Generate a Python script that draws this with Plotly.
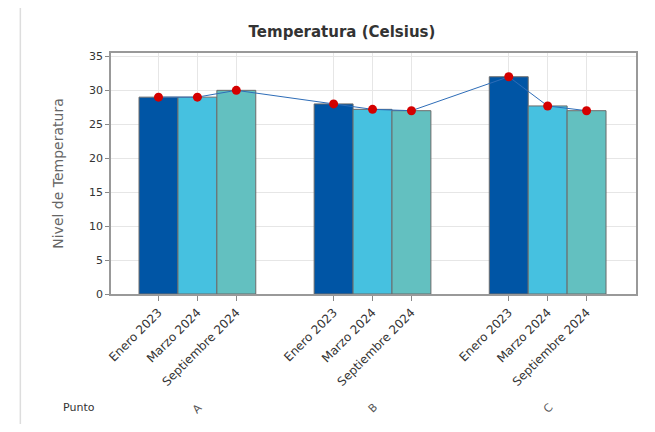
import plotly.graph_objects as go

# ---- data ----
puntos = ["A", "B", "C"]
meses = ["Enero 2023", "Marzo 2024", "Septiembre 2024"]
enero_2023 = [29, 28, 32]
marzo_2024 = [29, 27.2, 27.7]
septiembre_2024 = [30, 27, 27]
y_ticks = [0, 5, 10, 15, 20, 25, 30, 35]

series = [enero_2023, marzo_2024, septiembre_2024]
colores = ["#0055A5", "#46C1E0", "#63C0C0"]

FONT = "DejaVu Sans"
GROUP_STEP = 4.5

fig = go.Figure()

xs_all, ys_all, ticktext, tickvals = [], [], [], []
for g, p in enumerate(puntos):
    for j, m in enumerate(meses):
        x = g * GROUP_STEP + j
        xs_all.append(x)
        ys_all.append(series[j][g])
        tickvals.append(x)
        ticktext.append(m)

for j, m in enumerate(meses):
    fig.add_trace(go.Bar(
        x=[g * GROUP_STEP + j for g in range(len(puntos))],
        y=series[j],
        width=1.0,
        name=m,
        marker=dict(color=colores[j], line=dict(color="#6B6B6B", width=1)),
        showlegend=False,
    ))

fig.add_trace(go.Scatter(
    x=xs_all, y=ys_all, mode="lines+markers",
    line=dict(color="#2E6DB8", width=1),
    marker=dict(color="#D40000", size=9),
    showlegend=False,
))

# page body has an 8px margin: work in shifted coordinates
OFF = 8
W, H = 655 - 2 * OFF, 432 - 2 * OFF
L = 111 - OFF
T = 53 - OFF
R = W - (638 - OFF)
B = H - (294 - OFF)
pw, ph = W - L - R, H - T - B


def py(pix):  # reference pixel y -> paper y
    return (ph - (pix - OFF - T)) / ph


def px(pix):  # reference pixel x -> paper x
    return (pix - OFF - L) / pw


annotations = []
for g, p in enumerate(puntos):
    annotations.append(dict(
        x=g * GROUP_STEP + 1, xref="x", y=py(408), yref="paper",
        xanchor="center", yanchor="middle",
        text=p, showarrow=False, textangle=-45,
        font=dict(family=FONT, size=11, color="#555555"),
    ))
annotations.append(dict(
    x=px(79), xref="paper", y=py(407), yref="paper",
    xanchor="center", yanchor="middle",
    text="Punto", showarrow=False,
    font=dict(family=FONT, size=11, color="#333333"),
))

shapes = [
    dict(type="line", xref="paper", yref="paper",
         x0=px(20), x1=px(660), y0=py(7), y1=py(7),
         line=dict(color="#DDDDDD", width=1.5)),
    dict(type="line", xref="paper", yref="paper",
         x0=px(20), x1=px(20), y0=py(7), y1=py(440),
         line=dict(color="#DDDDDD", width=1.5)),
]

fig.update_layout(
    width=W, height=H,
    margin=dict(l=L, r=R, t=T, b=B),
    paper_bgcolor="white", plot_bgcolor="white",
    barmode="overlay",
    title=dict(text="<b>Temperatura (Celsius)</b>", x=(342 - OFF) / W, xanchor="center",
               y=1 - (32 - OFF) / H, yanchor="middle",
               font=dict(family=FONT, size=15, color="#333333")),
    xaxis=dict(
        range=[-1.22, 12.27], tickvals=tickvals, ticktext=ticktext,
        tickangle=-45, ticks="outside", ticklen=5, tickcolor="#888888",
        showgrid=True, gridcolor="#E6E6E6", gridwidth=1,
        showline=True, linecolor="#999999", linewidth=1.5, mirror=True,
        zeroline=False,
        tickfont=dict(family=FONT, size=12, color="#333333"),
    ),
    yaxis=dict(
        range=[0, 35.5], tickvals=y_ticks,
        ticks="outside", ticklen=4, tickcolor="#888888",
        showgrid=True, gridcolor="#E6E6E6", gridwidth=1,
        showline=True, linecolor="#999999", linewidth=1.5, mirror=True,
        zeroline=False,
        tickfont=dict(family=FONT, size=11, color="#333333"),
        title=dict(text="Nivel de Temperatura", standoff=22,
                   font=dict(family=FONT, size=14, color="#666666")),
    ),
    annotations=annotations,
    shapes=shapes,
)

fig.write_html("out.html")
